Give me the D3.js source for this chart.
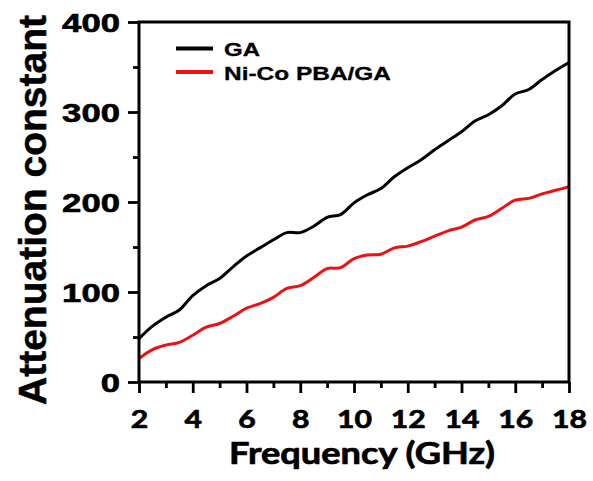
<!DOCTYPE html>
<html>
<head>
<meta charset="utf-8">
<script src="https://cdn.jsdelivr.net/npm/d3@7"></script>
<style>
  html, body { margin: 0; padding: 0; background: #fff; }
  svg { display: block; }
</style>
</head>
<body>
<svg id="chart" width="593" height="481"></svg>
<script>
// Frequency sweep (GHz)
const frequency = [2, 2.5, 3, 3.5, 4, 4.5, 5, 5.5, 6, 6.5, 7, 7.5, 8, 8.5, 9, 9.5, 10,
  10.5, 11, 11.5, 12, 12.5, 13, 13.5, 14, 14.5, 15, 15.5, 16, 16.5, 17, 17.5, 18];

// Attenuation constant, GA
const gaValues = [48, 62, 72, 80, 96, 107, 115, 128, 140, 149, 158, 166, 166, 173, 183, 186, 199,
  208, 215, 228, 238, 247, 258, 268, 278, 290, 297, 307, 320, 325, 336, 346, 355];

// Attenuation constant, Ni-Co PBA/GA
const pbaValues = [26, 36, 41, 44, 52, 61, 65, 73, 82, 87, 94, 104, 107, 116, 126, 127, 137,
  141, 142, 149, 151, 156, 162, 168, 172, 180, 184, 193, 202, 204, 209, 213, 217];

const seriesNames = ["GA", "Ni-Co PBA/GA"];
const seriesColors = ["#000000", "#ee1111"];

const xTicks = [2, 4, 6, 8, 10, 12, 14, 16, 18];
const xMinorTicks = [3, 5, 7, 9, 11, 13, 15, 17];
const yTicks = [0, 100, 200, 300, 400];
const yMinorTicks = [50, 150, 250, 350];

const xTitle = "Frequency (GHz)";
const yTitle = "Attenuation constant";

const svg = d3.select("#chart");
const plotLeft = 139, plotRight = 569, plotTop = 22, plotBottom = 382;

const x = d3.scaleLinear().domain([2, 18]).range([plotLeft, plotRight]);
const y = d3.scaleLinear().domain([0, 400]).range([plotBottom, plotTop]);

const AXIS_FONT = "'Liberation Sans', Arial, sans-serif";
const X_FONT = "Lato, 'Open Sans', sans-serif";

// Data lines
const line = d3.line()
  .x((d, i) => x(frequency[i]))
  .y(d => y(d))
  .curve(d3.curveCatmullRom.alpha(0.5));

[gaValues, pbaValues].forEach((vals, k) => {
  svg.append("path")
    .datum(vals)
    .attr("d", line)
    .attr("fill", "none")
    .attr("stroke", seriesColors[k])
    .attr("stroke-width", 3)
    .attr("stroke-linejoin", "round");
});

// X axis: major ticks with labels, minor ticks without
const gx = svg.append("g")
  .attr("transform", `translate(0,${plotBottom})`)
  .call(d3.axisBottom(x).tickValues(xTicks).tickSize(11).tickSizeOuter(0).tickFormat(d3.format("d")));
svg.append("g")
  .attr("transform", `translate(0,${plotBottom})`)
  .call(d3.axisBottom(x).tickValues(xMinorTicks).tickSize(6).tickSizeOuter(0).tickFormat(""));

// Y axis
const gy = svg.append("g")
  .attr("transform", `translate(${plotLeft},0)`)
  .call(d3.axisLeft(y).tickValues(yTicks).tickSize(11).tickSizeOuter(0).tickFormat(d3.format("d")));
svg.append("g")
  .attr("transform", `translate(${plotLeft},0)`)
  .call(d3.axisLeft(y).tickValues(yMinorTicks).tickSize(6).tickSizeOuter(0).tickFormat(""));

svg.selectAll(".domain").remove();
svg.selectAll(".tick line").attr("stroke", "#000").attr("stroke-width", 2.8);

gx.selectAll(".tick text")
  .attr("y", 46).attr("dy", 0)
  .attr("font-family", X_FONT).attr("font-weight", 700).attr("font-size", 25.5)
  .attr("fill", "#000").attr("stroke", "#000").attr("stroke-width", 0.7)
  .attr("textLength", d => String(d).length * 17.5)
  .attr("lengthAdjust", "spacingAndGlyphs");

gy.selectAll(".tick text")
  .attr("x", -19).attr("dy", 0).attr("y", 9.5)
  .attr("font-family", AXIS_FONT).attr("font-weight", 700).attr("font-size", 25)
  .attr("fill", "#000").attr("stroke", "#000").attr("stroke-width", 0.6)
  .attr("textLength", d => String(d).length * 19.3)
  .attr("lengthAdjust", "spacingAndGlyphs");

// Plot frame
svg.append("rect")
  .attr("x", plotLeft).attr("y", plotTop)
  .attr("width", plotRight - plotLeft).attr("height", plotBottom - plotTop)
  .attr("fill", "none").attr("stroke", "#000").attr("stroke-width", 3);

// Axis titles
svg.append("text")
  .attr("x", 362).attr("y", 464)
  .attr("text-anchor", "middle")
  .attr("font-family", X_FONT).attr("font-weight", 700).attr("font-size", 30)
  .attr("stroke", "#000").attr("stroke-width", 0.7)
  .attr("textLength", 266).attr("lengthAdjust", "spacingAndGlyphs")
  .text(xTitle);

svg.append("text")
  .attr("transform", "translate(46,210) rotate(-90)")
  .attr("text-anchor", "middle")
  .attr("font-family", AXIS_FONT).attr("font-weight", 700).attr("font-size", 39)
  .attr("stroke", "#000").attr("stroke-width", 0.5)
  .attr("textLength", 390).attr("lengthAdjust", "spacingAndGlyphs")
  .text(yTitle);

// Legend
const legendRows = [
  { y: 48.5, base: 56, len: 36 },
  { y: 72, base: 79.5, len: 167 }
];
legendRows.forEach((r, k) => {
  svg.append("line")
    .attr("x1", 176).attr("x2", 213).attr("y1", r.y).attr("y2", r.y)
    .attr("stroke", seriesColors[k]).attr("stroke-width", 4);
  svg.append("text")
    .attr("x", 224).attr("y", r.base)
    .attr("font-family", AXIS_FONT).attr("font-weight", 700).attr("font-size", 19)
    .attr("stroke", "#000").attr("stroke-width", 0.3)
    .attr("textLength", r.len).attr("lengthAdjust", "spacingAndGlyphs")
    .text(seriesNames[k]);
});
</script>
</body>
</html>
